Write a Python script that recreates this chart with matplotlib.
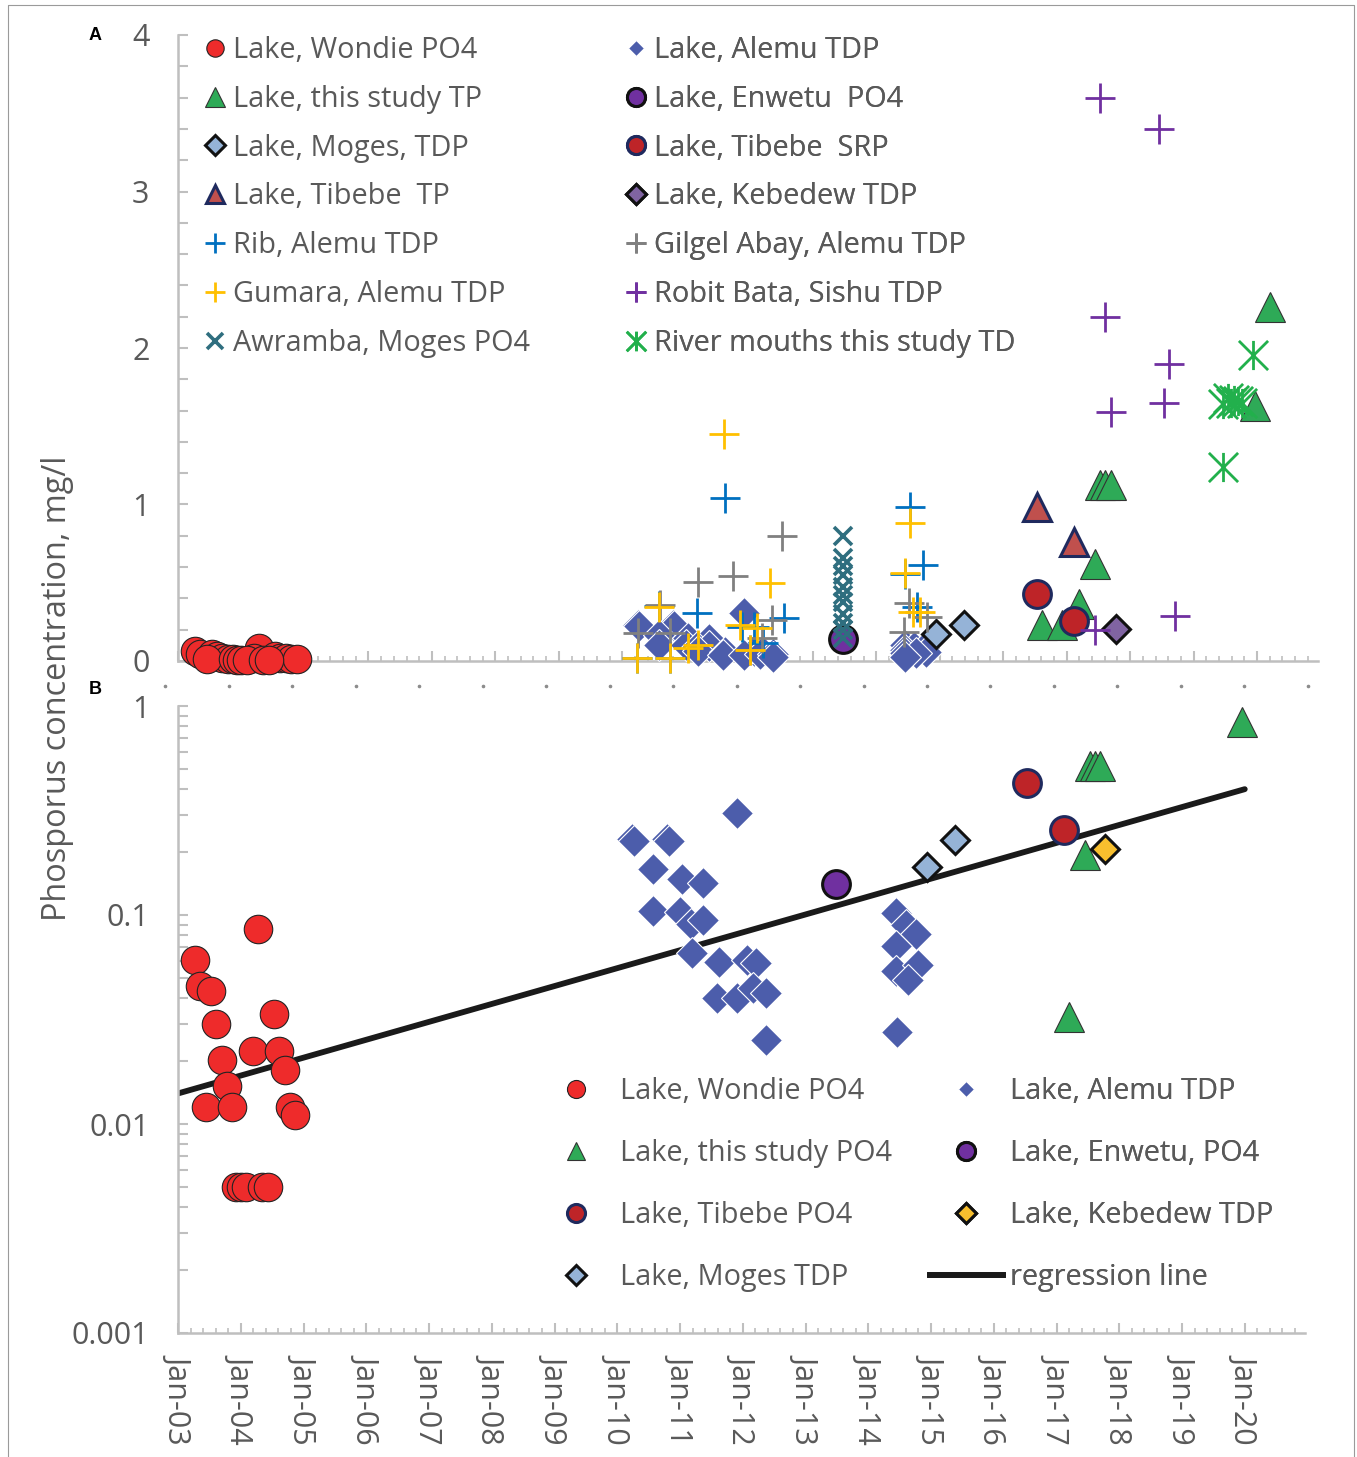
import numpy as np
import matplotlib
matplotlib.use("Agg")
import matplotlib.pyplot as plt
from matplotlib.lines import Line2D
from matplotlib.path import Path
from matplotlib import ticker
import matplotlib.transforms as mtransforms

plt.rcParams["font.family"] = ["Open Sans", "DejaVu Sans"]

# ---------------- data (decimal year, mg/l) ----------------
wondie_dates = [2003.27, 2003.35, 2003.53, 2003.61, 2003.70, 2003.78, 2003.45, 2003.86,
                2004.28, 2004.20, 2004.53, 2004.61, 2004.70, 2004.78, 2004.87,
                2003.93, 2004.00, 2004.08, 2004.34, 2004.43]
wondie_po4 = [0.061, 0.0455, 0.0435, 0.030, 0.0203, 0.0152, 0.0121, 0.0121,
              0.086, 0.0223, 0.0335, 0.0223, 0.0182, 0.0121, 0.0111,
              0.005, 0.005, 0.005, 0.005, 0.005]

alemu_dates = [2011.91, 2010.24, 2010.26, 2010.80, 2010.82, 2010.57, 2011.03, 2011.37,
               2010.57, 2011.00, 2011.17, 2011.37, 2011.19, 2011.62, 2012.07, 2012.21,
               2011.59, 2011.91, 2012.17, 2012.37, 2012.37,
               2014.45, 2014.60, 2014.76, 2014.45, 2014.45, 2014.79, 2014.63, 2014.46]
alemu_tdp = [0.307, 0.230, 0.225, 0.230, 0.225, 0.166, 0.149, 0.143,
             0.104, 0.103, 0.091, 0.0946, 0.0656, 0.0598, 0.061, 0.0588,
             0.0399, 0.0399, 0.0445, 0.0425, 0.0252,
             0.102, 0.0895, 0.081, 0.0713, 0.0542, 0.0577, 0.0489, 0.0277]

study_tp_dates = [2016.61, 2016.93, 2017.20, 2017.45, 2017.53, 2017.61, 2017.70, 2019.96, 2020.21]
study_tp = [0.233, 0.233, 0.362, 0.618, 1.125, 1.125, 1.125, 1.627, 2.26]

study_po4_dates = [2017.20, 2017.45, 2017.53, 2017.61, 2017.70, 2019.95]
study_po4 = [0.0326, 0.194, 0.516, 0.516, 0.516, 0.84]

enwetu_dates = [2013.48]
enwetu_po4 = [0.14]

moges_dates = [2014.94, 2015.38]
moges_tdp = [0.17, 0.229]

tibebe_dates = [2016.53, 2017.12]
tibebe_srp = [0.43, 0.255]
tibebe_tp = [0.983, 0.76]

kebedew_dates = [2017.78]
kebedew_tdp = [0.206]

rib_dates = [2011.61, 2011.18, 2012.55, 2010.23, 2010.75, 2011.88, 2012.07, 2012.22, 2010.57,
             2014.53, 2014.74, 2014.46, 2014.64]
rib_tdp = [1.04, 0.305, 0.273, 0.017, 0.017, 0.22, 0.22, 0.113, 0.35,
           0.986, 0.613, 0.556, 0.343]

gilgel_dates = [2011.20, 2011.75, 2010.60, 2010.25, 2010.75, 2012.36, 2012.20, 2012.01, 2012.52,
                2014.51, 2014.80, 2014.43]
gilgel_tdp = [0.507, 0.543, 0.358, 0.177, 0.177, 0.262, 0.145, 0.07, 0.80,
              0.369, 0.283, 0.187]

gumara_dates = [2011.60, 2012.33, 2010.57, 2010.23, 2010.75, 2011.04, 2011.20, 2011.86, 2012.12,
                2012.01, 2014.53, 2014.46, 2014.58, 2014.69]
gumara_tdp = [1.449, 0.50, 0.347, 0.017, 0.017, 0.081, 0.102, 0.23, 0.209,
              0.07, 0.88, 0.56, 0.315, 0.315]

robit_dates = [2017.53, 2018.45, 2017.61, 2018.62, 2018.53, 2017.70, 2018.70, 2017.44]
robit_tdp = [3.60, 3.40, 2.197, 1.897, 1.65, 1.594, 0.29, 0.195]

awramba_dates = [2013.48] * 11
awramba_po4 = [0.80, 0.66, 0.61, 0.55, 0.47, 0.42, 0.38, 0.30, 0.24, 0.20, 0.15]

mouth_dates = [2019.94, 2019.47, 2019.54, 2019.59, 2019.64, 2019.70, 2019.76, 2019.46]
mouth_td = [1.958, 1.64, 1.68, 1.65, 1.67, 1.66, 1.65, 1.242]

reg_dates = [2003.0, 2020.0]
reg_vals = [0.014, 0.40]

# ---------------- styles ----------------
GRAY_TXT = "#595959"
AXIS_GRAY = "#BFBFBF"
FS = 20.8      # legend text
TICK_FS = 22

asterisk = Path([(0, -1), (0, 1), (-1, -1), (1, 1), (-1, 1), (1, -1)],
                [Path.MOVETO, Path.LINETO, Path.MOVETO, Path.LINETO, Path.MOVETO, Path.LINETO])

st = {
    "wondie": dict(marker="o", mfc="#EE2B2B", mec="#222222", mew=0.8),
    "alemu": dict(marker="D", mfc="#4C5DAB", mec="white", mew=0.8),
    "study": dict(marker="^", mfc="#2EAA57", mec="#333333", mew=0.8),
    "enwetu": dict(marker="o", mfc="#7030A0", mec="#111111", mew=2.2),
    "moges": dict(marker="D", mfc="#95B3D7", mec="#111111", mew=2.2),
    "tibebe_c": dict(marker="o", mfc="#BE2428", mec="#1F2A5E", mew=2.2),
    "tibebe_t": dict(marker="^", mfc="#C0504D", mec="#1F2A5E", mew=2.2),
    "kebedew_a": dict(marker="D", mfc="#8064A2", mec="#111111", mew=2.2),
    "kebedew_b": dict(marker="D", mfc="#F8BF2E", mec="#111111", mew=2.2),
    "rib": dict(marker="+", mec="#0070C0", mew=2.0),
    "gilgel": dict(marker="+", mec="#808080", mew=2.0),
    "gumara": dict(marker="+", mec="#FFC000", mew=2.0),
    "robit": dict(marker="+", mec="#7030A0", mew=2.0),
    "awramba": dict(marker="x", mec="#2F6E7F", mew=2.6),
    "mouth": dict(marker=asterisk, mfc="none", mec="#22B04C", mew=2.0),
}


def pts(ax, x, y, key, ms, **kw):
    return ax.plot(x, y, linestyle="none", ms=ms, **st[key], **kw)[0]


def handle(key, ms, **kw):
    return Line2D([], [], linestyle="none", ms=ms, **st[key], **kw)


def style_axes(ax):
    for s in ("top", "right"):
        ax.spines[s].set_visible(False)
    for s in ("left", "bottom"):
        ax.spines[s].set_color(AXIS_GRAY)
        ax.spines[s].set_linewidth(1.8)
    ax.set_xlim(2003.0, 2020.96)
    ax.xaxis.set_major_locator(ticker.MultipleLocator(1))
    ax.xaxis.set_minor_locator(ticker.MultipleLocator(0.2))
    ax.tick_params(axis="x", which="major", direction="in", length=7, width=1.5,
                   color=AXIS_GRAY)
    ax.tick_params(axis="x", which="minor", direction="in", length=3.5, width=1.2,
                   color=AXIS_GRAY)
    ax.tick_params(axis="y", which="both", direction="in", length=7, width=1.5,
                   color=AXIS_GRAY, labelsize=TICK_FS, labelcolor=GRAY_TXT, pad=20.5)
    ax.set_facecolor("none")


fig = plt.figure(figsize=(13.57, 14.57), dpi=100)

# ---------------- panel A ----------------
axA = fig.add_axes([178 / 1357, 1 - 661 / 1457, 1140 / 1357, 626 / 1457])
style_axes(axA)
axA.set_ylim(0, 4)
axA.yaxis.set_major_locator(ticker.MultipleLocator(1))
axA.yaxis.set_minor_locator(ticker.MultipleLocator(0.2))
axA.tick_params(axis="x", labelbottom=False)

z = 3
pts(axA, wondie_dates, wondie_po4, "wondie", 20.5, zorder=z, clip_on=False)
pts(axA, alemu_dates, alemu_tdp, "alemu", 16, zorder=z + 1, clip_on=False)
pts(axA, study_tp_dates, study_tp, "study", 21, zorder=z + 2)
pts(axA, enwetu_dates, enwetu_po4, "enwetu", 20, zorder=z + 3)
pts(axA, moges_dates, moges_tdp, "moges", 14.5, zorder=z + 4)
pts(axA, tibebe_dates, tibebe_srp, "tibebe_c", 20, zorder=z + 5)
pts(axA, tibebe_dates, tibebe_tp, "tibebe_t", 20, zorder=z + 6)
pts(axA, kebedew_dates, kebedew_tdp, "kebedew_a", 14.5, zorder=z + 7)
pts(axA, rib_dates, rib_tdp, "rib", 21, zorder=z + 8, clip_on=False)
pts(axA, gilgel_dates, gilgel_tdp, "gilgel", 21, zorder=z + 9, clip_on=False)
pts(axA, gumara_dates, gumara_tdp, "gumara", 21, zorder=z + 10, clip_on=False)
pts(axA, robit_dates, robit_tdp, "robit", 21, zorder=z + 11)
pts(axA, awramba_dates, awramba_po4, "awramba", 13.5, zorder=z + 12)
pts(axA, mouth_dates, mouth_td, "mouth", 21, zorder=z + 13)

# faint tick remnants under panel A
dot_years = np.arange(2003, 2022) - 0.2
axA.plot(dot_years, np.full(len(dot_years), -0.04), linestyle="none", marker="o",
         ms=1.6, color="#8C8C8C", transform=mtransforms.blended_transform_factory(
             axA.transData, axA.transAxes), clip_on=False)

legA_col1 = [
    (handle("wondie", 12.5), "Lake, Wondie PO4"),
    (handle("study", 14), "Lake, this study TP"),
    (handle("moges", 10), "Lake, Moges, TDP"),
    (handle("tibebe_t", 13), "Lake, Tibebe  TP"),
    (handle("rib", 14), "Rib, Alemu TDP"),
    (handle("gumara", 14), "Gumara, Alemu TDP"),
    (handle("awramba", 11), "Awramba, Moges PO4"),
]
legA_col2 = [
    (handle("alemu", 8), "Lake, Alemu TDP"),
    (handle("enwetu", 13), "Lake, Enwetu  PO4"),
    (handle("tibebe_c", 13), "Lake, Tibebe  SRP"),
    (handle("kebedew_a", 10), "Lake, Kebedew TDP"),
    (handle("gilgel", 14), "Gilgel Abay, Alemu TDP"),
    (handle("robit", 14), "Robit Bata, Sishu TDP"),
    (handle("mouth", 14), "River mouths this study TD"),
]
for items, x0 in ((legA_col1, 203), (legA_col2, 624)):
    lg = axA.legend([h for h, _ in items], [t for _, t in items], loc="upper left",
                    bbox_to_anchor=((x0 - 178) / 1140, (661 - 36) / 626),
                    frameon=False, fontsize=FS, labelcolor=GRAY_TXT, handlelength=0.83,
                    handletextpad=0.21, labelspacing=0.685, borderpad=0, borderaxespad=0)
    axA.add_artist(lg)

# ---------------- panel B ----------------
axB = fig.add_axes([178 / 1357, 1 - 1333 / 1457, 1127 / 1357, 627 / 1457])
style_axes(axB)
axB.set_yscale("log")
axB.set_ylim(0.001, 1)
axB.yaxis.set_major_locator(ticker.LogLocator(base=10, numticks=10))
axB.yaxis.set_minor_locator(ticker.LogLocator(base=10, subs=np.arange(2, 10), numticks=10))
axB.yaxis.set_major_formatter(ticker.FuncFormatter(lambda v, _: f"{v:g}"))
axB.yaxis.set_minor_formatter(ticker.NullFormatter())
axB.xaxis.set_major_formatter(ticker.FuncFormatter(lambda v, _: f"Jan-{int(round(v)) % 100:02d}"))
axB.tick_params(axis="x", which="major", labelsize=TICK_FS, labelcolor=GRAY_TXT,
                labelrotation=-90, pad=15)

axB.plot(reg_dates, reg_vals, color="#1A1A1A", lw=4.2, solid_capstyle="round", zorder=2)
pts(axB, wondie_dates, wondie_po4, "wondie", 20.5, zorder=3)
pts(axB, alemu_dates, alemu_tdp, "alemu", 16, zorder=4)
pts(axB, study_po4_dates, study_po4, "study", 21, zorder=5)
pts(axB, enwetu_dates, enwetu_po4, "enwetu", 20, zorder=6)
pts(axB, tibebe_dates, tibebe_srp, "tibebe_c", 20, zorder=7)
pts(axB, kebedew_dates, kebedew_tdp, "kebedew_b", 14.5, zorder=8)
pts(axB, moges_dates, moges_tdp, "moges", 14.5, zorder=9)

legB_col1 = [
    (handle("wondie", 13), "Lake, Wondie PO4"),
    (handle("study", 13), "Lake, this study PO4"),
    (handle("tibebe_c", 13), "Lake, Tibebe PO4"),
    (handle("moges", 10.5), "Lake, Moges TDP"),
]
legB_col2 = [
    (handle("alemu", 8), "Lake, Alemu TDP"),
    (handle("enwetu", 13), "Lake, Enwetu, PO4"),
    (handle("kebedew_b", 10.5), "Lake, Kebedew TDP"),
    (Line2D([], [], color="#1A1A1A", lw=4.2), "regression line"),
]
for items, x0 in ((legB_col1, 540), (legB_col2, 930)):
    lg = axB.legend([h for h, _ in items], [t for _, t in items], loc="upper left",
                    bbox_to_anchor=((x0 - 178) / 1127, (1333 - 1077) / 627),
                    frameon=False, fontsize=FS, labelcolor=GRAY_TXT, handlelength=2.52,
                    handletextpad=0.25, labelspacing=1.14, borderpad=0, borderaxespad=0)
    axB.add_artist(lg)

# ---------------- labels and frame ----------------
fig.text(58 / 1357, 1 - 688 / 1457, "Phosporus concentration, mg/l", rotation=90,
         ha="center", va="center", fontsize=23.4, color=GRAY_TXT)
fig.text(95 / 1357, 1 - 36 / 1457, "A", ha="center", va="center", fontsize=13,
         fontweight="bold", family="Liberation Sans")
fig.text(95 / 1357, 1 - 690 / 1457, "B", ha="center", va="center", fontsize=13,
         fontweight="bold", family="Liberation Sans")
fig.add_artist(Line2D([8 / 1357, 8 / 1357, 1354 / 1357, 1354 / 1357],
                      [0, 1 - 5 / 1457, 1 - 5 / 1457, 0],
                      transform=fig.transFigure, color="#9A9A9A", lw=0.8))

fig.savefig("out.png", dpi=100)
